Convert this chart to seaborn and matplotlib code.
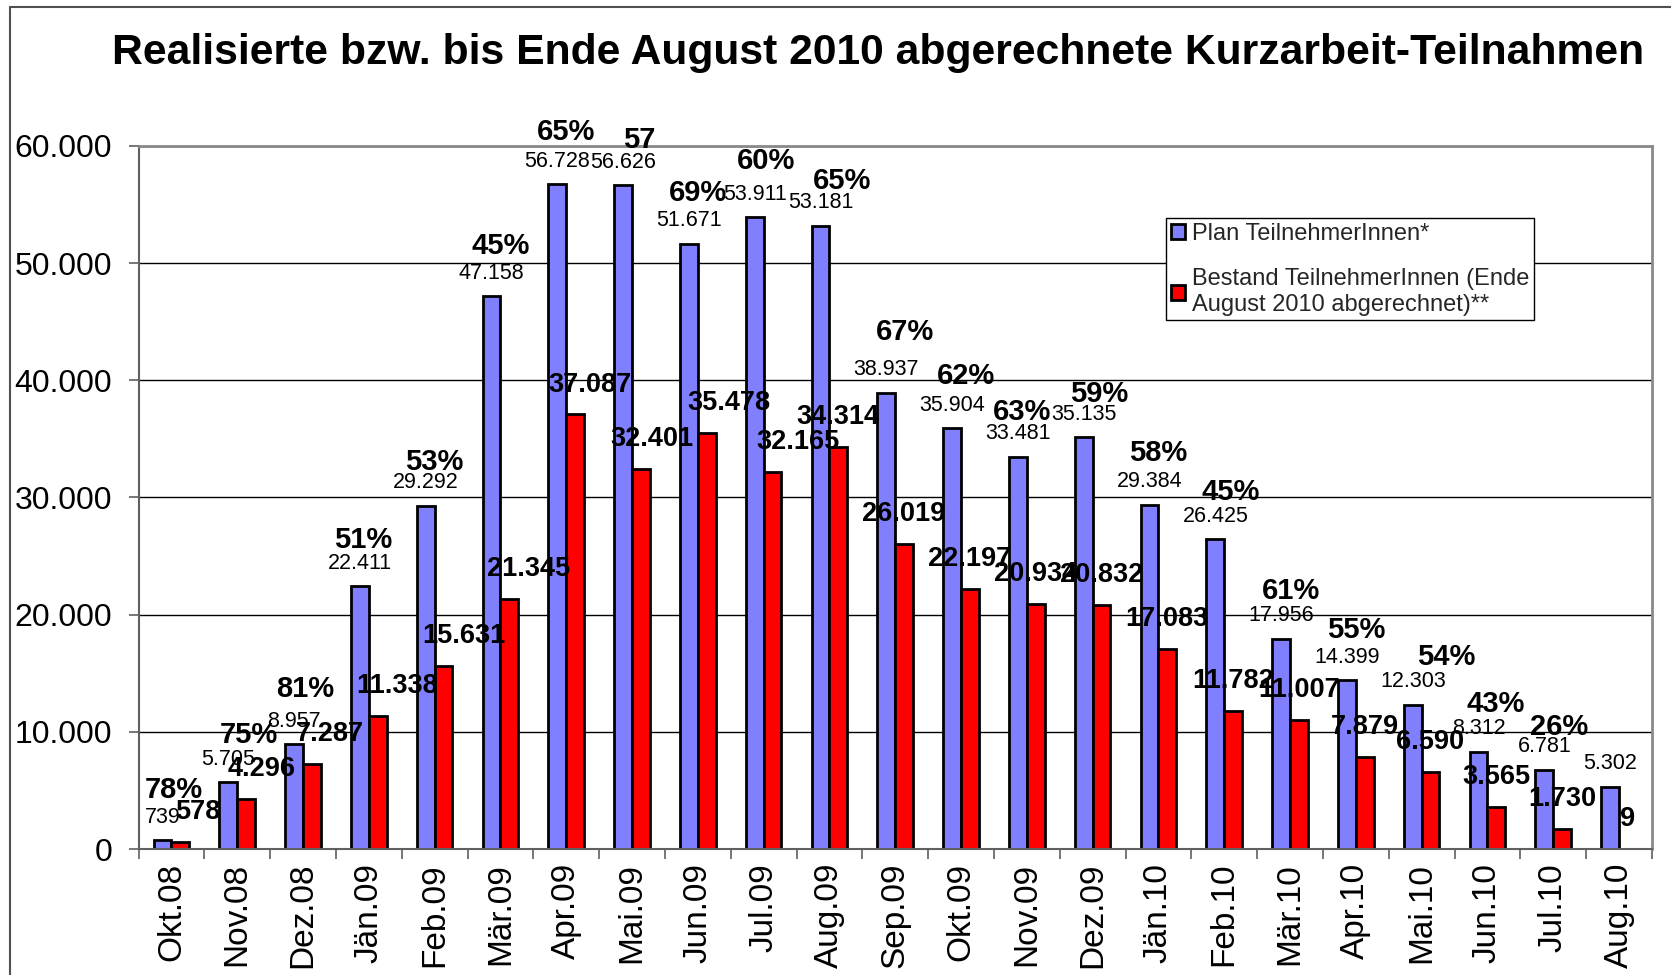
import matplotlib
matplotlib.use("Agg")
import matplotlib.pyplot as plt
import seaborn as sns
import pandas as pd
from matplotlib.lines import Line2D
from matplotlib.ticker import FixedLocator, FuncFormatter

months = ["Okt.08", "Nov.08", "Dez.08", "Jän.09", "Feb.09", "Mär.09", "Apr.09",
          "Mai.09", "Jun.09", "Jul.09", "Aug.09", "Sep.09", "Okt.09", "Nov.09",
          "Dez.09", "Jän.10", "Feb.10", "Mär.10", "Apr.10", "Mai.10", "Jun.10",
          "Jul.10", "Aug.10"]
plan = [739, 5705, 8957, 22411, 29292, 47158, 56728, 56626, 51671, 53911, 53181,
        38937, 35904, 33481, 35135, 29384, 26425, 17956, 14399, 12303, 8312, 6781, 5302]
bestand = [578, 4296, 7287, 11338, 15631, 21345, 37087, 32401, 35478, 32165, 34314,
           26019, 22197, 20934, 20832, 17083, 11782, 11007, 7879, 6590, 3565, 1730, 9]
pct_labels = ["78%", "75%", "81%", "51%", "53%", "45%", "65%", "57", "69%", "60%", "65%",
              "67%", "62%", "63%", "59%", "58%", "45%", "61%", "55%", "54%", "43%", "26%", ""]
series_names = ["Plan TeilnehmerInnen*",
                "Bestand TeilnehmerInnen (Ende\nAugust 2010 abgerechnet)**"]
title = "Realisierte bzw. bis Ende August 2010 abgerechnete Kurzarbeit-Teilnahmen"

# manual nudges of labels (points), as placed in the original
red_label_dx = [12.7, 11, 13, 13.7, 14.4, 14.2, 10.8, 8, 16, 18, 0, 0, 0, 0, 0, 0, 0, 0,
                0, 0, 0, 0, 0]
pct_dx = [2, 8.5, 1.5, -4, 0, 0, 0, 5, 0, 2, 9, 7, 3.5, -3.5, 4.5, 0, 4.5, 1, 0, 17.6,
          6, 4, 0]
pct_dy = [-1, -3.5, 2, -4, -6, -1, 0, -5, -1, 3, -5, 6, 0, -5, -6.5, 0, -3.5, -3, -1, -3,
          -3.5, -7, 0]

n = len(months)
df = pd.DataFrame({
    "Monat": months * 2,
    "Wert": plan + bestand,
    "Serie": [series_names[0]] * n + [series_names[1]] * n,
})


def de_fmt(v):
    return f"{int(round(v)):,}".replace(",", ".")


sns.set_theme(style="white")
plt.rcParams["font.family"] = ["Liberation Sans", "DejaVu Sans"]

fig = plt.figure(figsize=(16.71, 9.75), dpi=100)
ax = fig.add_axes([0.0829, 0.1292, 0.9057, 0.7211])

sns.barplot(data=df, x="Monat", y="Wert", hue="Serie", order=months,
            hue_order=series_names, palette=["#8080FF", "#FF0000"], saturation=1,
            width=0.54, gap=0, edgecolor="black", linewidth=2.0, errorbar=None, ax=ax)

ax.set_ylim(0, 60000)
ax.set_xlim(-0.5, n - 0.5)
ax.yaxis.set_major_locator(FixedLocator(range(0, 60001, 10000)))
ax.yaxis.set_major_formatter(FuncFormatter(lambda v, p: de_fmt(v)))
ax.yaxis.grid(True, color="black", linewidth=1.0)
ax.set_axisbelow(True)
ax.set_xlabel("")
ax.set_ylabel("")

axis_grey = "#606060"
ax.tick_params(axis="y", which="major", labelsize=23, length=7, width=1.2,
               color=axis_grey, pad=12, left=True, labelcolor="black")
ax.tick_params(axis="x", which="major", labelsize=24, length=0, pad=10,
               labelrotation=90, labelcolor="black")
ax.xaxis.set_minor_locator(FixedLocator([i + 0.5 for i in range(-1, n)]))
ax.tick_params(axis="x", which="minor", length=7, width=1.2, color=axis_grey, bottom=True)

for side in ["left", "bottom"]:
    ax.spines[side].set_color(axis_grey)
    ax.spines[side].set_linewidth(1.5)
for side in ["top", "right"]:
    ax.spines[side].set_color("#8a8a8a")
    ax.spines[side].set_linewidth(2.0)

blue_bars, red_bars = ax.containers[0], ax.containers[1]
for i, (b, r) in enumerate(zip(blue_bars, red_bars)):
    bx = b.get_x() + b.get_width() / 2
    bh = b.get_height()
    rx = r.get_x() + r.get_width() / 2
    rh = r.get_height()
    cx = (b.get_x() + r.get_x() + r.get_width()) / 2
    ax.annotate(de_fmt(plan[i]), (bx, bh), xytext=(0, 16.5), textcoords="offset points",
                ha="center", va="center", fontsize=15.5, color="black")
    if pct_labels[i]:
        ax.annotate(pct_labels[i], (cx, bh), xytext=(pct_dx[i], 37.5 + pct_dy[i]),
                    textcoords="offset points", ha="center", va="center", fontsize=21,
                    fontweight="bold", color="black")
    ax.annotate(de_fmt(bestand[i]), (rx, rh), xytext=(red_label_dx[i], 21.5),
                textcoords="offset points", ha="center", va="center", fontsize=19.5,
                fontweight="bold", color="black")

leg = ax.legend(loc="upper left", bbox_to_anchor=(0.679, 0.8976), frameon=True,
                fancybox=False, fontsize=17, handlelength=0.6, handleheight=0.6,
                handletextpad=0.3, labelspacing=1.0, borderpad=0.2, borderaxespad=0,
                title=None)
leg.get_frame().set_edgecolor("black")
leg.get_frame().set_linewidth(1.0)
leg.get_frame().set_alpha(1)

fig.text(0.5256, 0.9456, title, ha="center", va="center", fontsize=30.7,
         fontweight="bold", color="black")

# outer frame of the slide chart (left and top edges visible)
fx, fy = 10 / 1671, 1 - 7 / 975
fig.add_artist(Line2D([fx, fx], [0, fy], transform=fig.transFigure,
                      color="#505050", linewidth=1.5))
fig.add_artist(Line2D([fx, 1], [fy, fy], transform=fig.transFigure,
                      color="#505050", linewidth=1.5))

fig.savefig("out.png", dpi=100)
